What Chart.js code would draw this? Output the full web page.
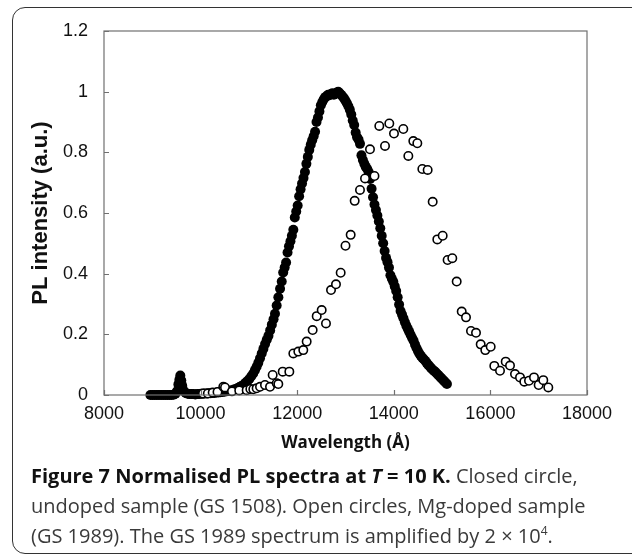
<!DOCTYPE html>
<html>
<head>
<meta charset="utf-8">
<script src="https://cdn.jsdelivr.net/npm/chart.js@4/dist/chart.umd.min.js"></script>
<style>
  html, body { margin: 0; padding: 0; background: #fff; }
  body { width: 632px; height: 557px; position: relative; overflow: hidden; }
  #frame { position: absolute; left: 12px; top: 7px; width: 700px; height: 547px;
           border: 1.5px solid #333; border-radius: 13px; box-sizing: border-box; }
  #wrap { position: absolute; left: 0; top: 0; width: 632px; height: 557px; }
  #caption { position: absolute; left: 31px; top: 461px; width: 600px;
             font-family: "Open Sans", sans-serif; font-size: 20px; line-height: 30px;
             color: #3a3a3a; white-space: nowrap; }
  #caption b { color: #111; font-weight: 700; }
</style>
</head>
<body>
<div id="frame"></div>
<div id="wrap"><canvas id="c" width="632" height="557"></canvas></div>
<div id="caption">
  <b>Figure 7 Normalised PL spectra at <i>T</i> = 10 K.</b> Closed circle,<br>
  undoped sample (GS 1508). Open circles, Mg-doped sample<br>
  (GS 1989). The GS 1989 spectrum is amplified by 2 × 10<sup style="font-size:12px;line-height:0;vertical-align:8px">4</sup>.
</div>
<script>
// Tick values
const xTicks = [8000, 10000, 12000, 14000, 16000, 18000];
const yTicks = [0, 0.2, 0.4, 0.6, 0.8, 1, 1.2];

// Undoped sample (GS 1508) - closed circles
const closedWavelength = [
  8960, 9000, 9040, 9080, 9120, 9160, 9200, 9240, 9280, 9320, 9360, 9400,
  9440, 9480, 9510, 9540, 9560, 9580, 9600, 9620, 9650, 9690, 9730, 9770,
  9810, 9850, 9890, 9930, 9970, 10010, 10050, 10090, 10130, 10170, 10210, 10250,
  10290, 10330, 10370, 10410, 10450, 10490, 10530, 10570, 10610, 10650, 10690, 10730,
  10770, 10810, 10850, 10890, 10930, 10970, 11010, 11050, 11090, 11125, 11160, 11195,
  11230, 11265, 11300, 11335, 11370, 11405, 11440, 11475, 11510, 11540, 11575, 11610,
  11645, 11680, 11710, 11740, 11770, 11800, 11830, 11860, 11890, 11920, 11950, 11980,
  12010, 12040, 12070, 12100, 12130, 12160, 12190, 12220, 12250, 12280, 12310, 12340,
  12370, 12400, 12430, 12460, 12490, 12520, 12550, 12580, 12610, 12640, 12670, 12700,
  12730, 12760, 12790, 12820, 12850, 12880, 12910, 12940, 12970, 13000, 13030, 13060,
  13090, 13120, 13150, 13180, 13210, 13240, 13270, 13300, 13330, 13360, 13390, 13420,
  13450, 13480, 13510, 13540, 13570, 13600, 13630, 13660, 13690, 13720, 13750, 13780,
  13810, 13840, 13870, 13900, 13930, 13960, 13990, 14020, 14050, 14080, 14110, 14140,
  14170, 14200, 14230, 14260, 14290, 14320, 14350, 14380, 14410, 14440, 14470, 14500,
  14530, 14560, 14590, 14620, 14650, 14680, 14710, 14740, 14770, 14800, 14830, 14860,
  14890, 14920, 14950, 14980, 15010, 15040, 15070, 15100
];
const closedIntensity = [
  0, 0, 0, 0, 0, 0, 0, 0, 0, 0, 0, 0,
  0.001, 0.004, 0.012, 0.035, 0.05, 0.064, 0.048, 0.03, 0.014, 0.007, 0.004, 0.003,
  0.003, 0.003, 0.002, 0.003, 0.003, 0.004, 0.004, 0.005, 0.005, 0.006, 0.006, 0.007,
  0.007, 0.008, 0.008, 0.009, 0.010, 0.011, 0.012, 0.013, 0.014, 0.016, 0.018, 0.020,
  0.023, 0.026, 0.030, 0.034, 0.040, 0.046, 0.053, 0.062, 0.071, 0.082, 0.093, 0.106,
  0.121, 0.137, 0.152, 0.168, 0.182, 0.195, 0.213, 0.232, 0.250, 0.268, 0.295, 0.322,
  0.350, 0.374, 0.404, 0.420, 0.437, 0.470, 0.490, 0.507, 0.525, 0.545, 0.585, 0.605,
  0.625, 0.655, 0.678, 0.697, 0.715, 0.735, 0.762, 0.785, 0.808, 0.825, 0.840, 0.853,
  0.868, 0.900, 0.915, 0.935, 0.955, 0.966, 0.975, 0.982, 0.985, 0.990, 0.988, 0.992,
  0.995, 0.990, 0.993, 0.997, 1.000, 0.995, 0.990, 0.984, 0.978, 0.970, 0.962, 0.952,
  0.940, 0.925, 0.905, 0.890, 0.865, 0.850, 0.842, 0.828, 0.790, 0.775, 0.762, 0.752,
  0.745, 0.735, 0.712, 0.680, 0.652, 0.628, 0.610, 0.592, 0.572, 0.550, 0.525, 0.500,
  0.475, 0.452, 0.438, 0.420, 0.395, 0.383, 0.373, 0.358, 0.343, 0.322, 0.298, 0.277,
  0.265, 0.253, 0.240, 0.228, 0.218, 0.208, 0.198, 0.188, 0.179, 0.166, 0.155, 0.145,
  0.136, 0.129, 0.123, 0.118, 0.113, 0.106, 0.100, 0.095, 0.089, 0.084, 0.080, 0.076,
  0.071, 0.066, 0.061, 0.056, 0.051, 0.046, 0.041, 0.036
];

// Mg-doped sample (GS 1989) - open circles
const openWavelength = [
  10050, 10150, 10250, 10350, 10470, 10505, 10650, 10800, 10954, 11030, 11091, 11160,
  11230, 11333, 11437, 11492, 11575, 11609, 11700, 11837, 11920, 12023, 12126, 12196,
  12320, 12404, 12507, 12596, 12700, 12803, 12900, 13000, 13107, 13190, 13300, 13404,
  13507, 13600, 13700, 13818, 13907, 14004, 14197, 14301, 14404, 14487, 14591, 14701,
  14805, 14901, 15012, 15114, 15211, 15302, 15406, 15495, 15598, 15702, 15799, 15894,
  16006, 16081, 16199, 16317, 16406, 16509, 16613, 16702, 16799, 16903, 16999, 17095,
  17199
];
const openIntensity = [
  0.005, 0.005, 0.008, 0.010, 0.027, 0.025, 0.012, 0.015, 0.016, 0.020, 0.019, 0.022,
  0.027, 0.033, 0.027, 0.066, 0.039, 0.036, 0.077, 0.077, 0.137, 0.143, 0.148, 0.176,
  0.214, 0.260, 0.280, 0.236, 0.346, 0.365, 0.403, 0.492, 0.528, 0.640, 0.676, 0.714,
  0.810, 0.722, 0.887, 0.821, 0.895, 0.862, 0.877, 0.788, 0.837, 0.830, 0.745, 0.742,
  0.637, 0.513, 0.525, 0.445, 0.451, 0.374, 0.275, 0.256, 0.211, 0.205, 0.167, 0.148,
  0.159, 0.096, 0.080, 0.110, 0.097, 0.069, 0.058, 0.044, 0.047, 0.058, 0.033, 0.049,
  0.025
];

const toPoints = (xs, ys) => xs.map((x, i) => ({ x: x, y: ys[i] }));

const boxTicks = {
  id: 'boxTicks',
  afterDatasetsDraw(chart) {
    const { ctx, chartArea: a, scales: { x, y } } = chart;
    ctx.save();
    ctx.strokeStyle = '#707070';
    ctx.lineWidth = 1.2;
    ctx.strokeRect(a.left, a.top, a.right - a.left, a.bottom - a.top);
    ctx.beginPath();
    xTicks.forEach(v => {
      const px = Math.round(x.getPixelForValue(v)) + 0.5;
      ctx.moveTo(px, a.bottom); ctx.lineTo(px, a.bottom - 5);
    });
    yTicks.forEach(v => {
      const py = Math.round(y.getPixelForValue(v)) + 0.5;
      ctx.moveTo(a.left, py); ctx.lineTo(a.left + 5, py);
    });
    ctx.stroke();
    ctx.restore();
  }
};

new Chart(document.getElementById('c'), {
  type: 'scatter',
  data: {
    datasets: [
      {
        label: 'Mg-doped sample (GS 1989)',
        data: toPoints(openWavelength, openIntensity),
        pointStyle: 'circle',
        pointRadius: 4.2,
        pointBorderWidth: 1.6,
        borderColor: '#000',
        backgroundColor: '#fff',
        pointBackgroundColor: '#fff',
        pointBorderColor: '#000'
      },
      {
        label: 'Undoped sample (GS 1508)',
        data: toPoints(closedWavelength, closedIntensity),
        pointStyle: 'circle',
        pointRadius: 5,
        pointBorderWidth: 0,
        backgroundColor: '#000',
        pointBackgroundColor: '#000',
        borderColor: '#000'
      }
    ]
  },
  options: {
    responsive: false,
    animation: false,
    devicePixelRatio: 1,
    clip: false,
    layout: { padding: { left: 0, top: 31, right: 45, bottom: 104 } },
    plugins: { legend: { display: false }, tooltip: { enabled: false } },
    scales: {
      x: {
        type: 'linear',
        min: 8000, max: 18000,
        afterBuildTicks: s => { s.ticks = xTicks.map(v => ({ value: v })); },
        afterFit: s => { s.height = 58; },
        grid: { display: false, drawTicks: false },
        border: { display: false },
        ticks: {
          padding: 8,
          color: '#111',
          font: { family: 'Liberation Sans', size: 18 },
          callback: v => String(v),
          maxRotation: 0
        },
        title: {
          display: true,
          text: 'Wavelength (Å)',
          color: '#111',
          padding: { top: 0, bottom: 0 },
          font: { family: 'Open Sans', size: 17, weight: 'bold' }
        }
      },
      y: {
        type: 'linear',
        min: 0, max: 1.2,
        afterBuildTicks: s => { s.ticks = yTicks.map(v => ({ value: v })); },
        afterFit: s => { s.width = 104; },
        grid: { display: false, drawTicks: false },
        border: { display: false },
        ticks: {
          padding: 16,
          color: '#111',
          font: { family: 'Liberation Sans', size: 18 },
          callback: v => String(Math.round(v * 10) / 10)
        },
        title: {
          display: true,
          text: 'PL intensity (a.u.)',
          color: '#111',
          padding: { top: 28, bottom: 0 },
          font: { family: 'Liberation Sans', size: 22, weight: 'bold' }
        }
      }
    }
  },
  plugins: [boxTicks]
});
</script>
</body>
</html>
